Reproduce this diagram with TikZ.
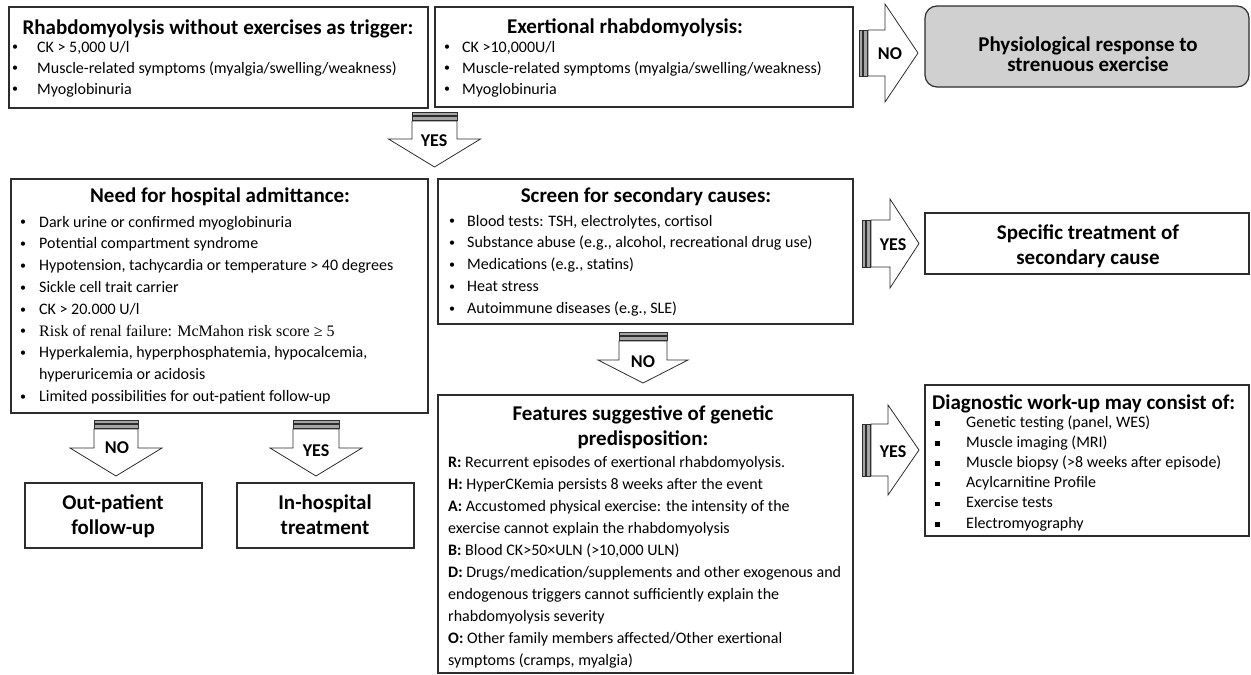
\documentclass[tikz,border=0pt]{standalone}
\usepackage{fontspec}
\setmainfont{Carlito}
\newfontfamily\timesfont{Liberation Serif}
\definecolor{boxgray}{RGB}{208,208,208}
\definecolor{linecol}{RGB}{45,45,45}
\newcommand{\bl}[1]{\makebox[#1][l]{\hspace*{1pt}{\fontsize{12}{12}\selectfont\raisebox{1.2pt}{\textbullet}}}}
\newcommand{\sq}{\makebox[31pt][l]{\rule[1.5pt]{4.5pt}{4.5pt}}}
% down block arrow: #1 name, #2 cx, #3 y0, #4 w, #5 W, #6 y1, #7 y2
\newcommand{\DArrow}[7]{%
  \draw[stripe] (#2-#4,#3) rectangle (#2+#4,#3+3);
  \draw[stripe] (#2-#4,#3+4) rectangle (#2+#4,#3+8);
  \draw[arrowbody] (#2-#4,#3+9) -- (#2-#4,#6) -- (#2-#5,#6) -- (#2,#7) -- (#2+#5,#6) -- (#2+#4,#6) -- (#2+#4,#3+9) -- cycle;
  \coordinate (#1) at (#2,#7);}
% right block arrow: #1 name, #2 x0, #3 cy, #4 h, #5 H, #6 x1, #7 x2
\newcommand{\RArrow}[7]{%
  \draw[stripe] (#2,#3-#4) rectangle (#2+3,#3+#4);
  \draw[stripe] (#2+4,#3-#4) rectangle (#2+8,#3+#4);
  \draw[arrowbody] (#2+9,#3-#4) -- (#6,#3-#4) -- (#6,#3-#5) -- (#7,#3) -- (#6,#3+#5) -- (#6,#3+#4) -- (#2+9,#3+#4) -- cycle;
  \coordinate (#1) at (#7,#3);}
\tikzset{
  box/.style={draw=linecol, line width=1.2pt, inner sep=0pt, outer sep=0pt, anchor=north west},
  ttl/.style={font=\fontsize{21}{21}\selectfont\bfseries, inner sep=0pt, anchor=base},
  txt/.style={font=\fontsize{16}{16}\selectfont, inner sep=0pt, anchor=base west},
  lbl/.style={font=\fontsize{18}{18}\selectfont\bfseries, inner sep=0pt, anchor=base},
  arrowbody/.style={draw=linecol, line width=0.8pt, fill=white, line join=miter},
  stripe/.style={draw=linecol, line width=0.6pt, fill=gray!70}
}
\begin{document}
\begin{tikzpicture}[x=1pt,y=-1pt]
\useasboundingbox (0,0) rectangle (1251,675);

% ---------- boxes ----------
\node[box, minimum width=419pt, minimum height=101pt] (b1) at (9,7) {};
\node[box, minimum width=418pt, minimum height=100pt] (b2) at (435,7) {};
\node[box, minimum width=324pt, minimum height=81pt, fill=boxgray, rounded corners=12pt] (phys) at (925,6) {};
\node[box, minimum width=417pt, minimum height=234pt] (b3) at (11,179) {};
\node[box, minimum width=415pt, minimum height=145pt] (b4) at (438,179) {};
\node[box, minimum width=324pt, minimum height=61pt] (spec) at (925,213) {};
\node[box, minimum width=415pt, minimum height=278pt] (b5) at (438,395) {};
\node[box, minimum width=324pt, minimum height=151pt] (diag) at (925,385) {};
\node[box, minimum width=177pt, minimum height=65pt] (outp) at (25,483) {};
\node[box, minimum width=177pt, minimum height=65pt] (inh) at (237,483) {};

% ---------- block arrows ----------
\DArrow{a1}{434.5}{112}{22.5}{46}{139}{167}
\DArrow{a2}{116}{420}{22}{46}{448}{476}
\DArrow{a3}{316}{420}{23}{46}{448}{476}
\DArrow{a4}{643}{332}{24}{45}{360}{383}
\RArrow{a5}{859}{53}{23}{49}{885}{918}
\RArrow{a6}{862}{243.5}{23.5}{44.5}{890}{919}
\RArrow{a7}{862}{450}{26}{45}{888}{919}
\node[lbl] (l1) at (434,146) {YES};
\node[lbl] (l2) at (117,453) {NO};
\node[lbl] (l3) at (316,456) {YES};
\node[lbl] (l4) at (643,367) {NO};
\node[lbl] (l5) at (890,59) {NO};
\node[lbl] (l6) at (893,250) {YES};
\node[lbl] (l7) at (893,457) {YES};

% ---------- box 1 ----------
\node[ttl] (b1t) at (218,34) {Rhabdomyolysis without exercises as trigger:};
\node[txt] (b1a) at (11,52) {\bl{26pt}CK > 5,000 U/l};
\node[txt] (b1b) at (11,73) {\bl{26pt}Muscle-related symptoms (myalgia/swelling/weakness)};
\node[txt] (b1c) at (11,94) {\bl{26pt}Myoglobinuria};

% ---------- box 2 ----------
\node[ttl] (b2t) at (625,33) {Exertional rhabdomyolysis:};
\node[txt] (b2a) at (443,52) {\bl{19pt}CK >10,000U/l};
\node[txt] (b2b) at (443,73) {\bl{19pt}Muscle-related symptoms (myalgia/swelling/weakness)};
\node[txt] (b2c) at (443,94) {\bl{19pt}Myoglobinuria};

% ---------- physiological ----------
\node[ttl] (pht1) at (1088,51) {Physiological response to};
\node[ttl] (pht2) at (1088,71) {strenuous exercise};

% ---------- box 3 ----------
\node[ttl] (b3t) at (220,202) {Need for hospital admittance:};
\node[txt] (b3a) at (19,227) {\bl{20pt}Dark urine or confirmed myoglobinuria};
\node[txt] (b3b) at (19,248.8) {\bl{20pt}Potential compartment syndrome};
\node[txt] (b3c) at (19,270.6) {\bl{20pt}Hypotension, tachycardia or temperature > 40 degrees};
\node[txt] (b3d) at (19,292.4) {\bl{20pt}Sickle cell trait carrier};
\node[txt] (b3e) at (19,314.2) {\bl{20pt}CK > 20.000 U/l};
\node[txt] (b3f) at (19,336) {\bl{20pt}{\timesfont Risk of renal failure: McMahon risk score ≥ 5}};
\node[txt] (b3g) at (19,357.8) {\bl{20pt}Hyperkalemia, hyperphosphatemia, hypocalcemia,};
\node[txt] (b3h) at (39,379.6) {hyperuricemia or acidosis};
\node[txt] (b3i) at (19,401.4) {\bl{20pt}Limited possibilities for out-patient follow-up};

% ---------- box 4 ----------
\node[ttl] (b4t) at (646,202) {Screen for secondary causes:};
\node[txt] (b4a) at (448,226) {\bl{19pt}Blood tests: TSH, electrolytes, cortisol};
\node[txt] (b4b) at (448,247.8) {\bl{19pt}Substance abuse (e.g., alcohol, recreational drug use)};
\node[txt] (b4c) at (448,269.6) {\bl{19pt}Medications (e.g., statins)};
\node[txt] (b4d) at (448,291.4) {\bl{19pt}Heat stress};
\node[txt] (b4e) at (448,313.2) {\bl{19pt}Autoimmune diseases (e.g., SLE)};

% ---------- specific treatment ----------
\node[ttl] (spt1) at (1088,239) {Specific treatment of};
\node[ttl] (spt2) at (1088,264) {secondary cause};

% ---------- box 5 ----------
\node[ttl] (b5t1) at (643,420) {Features suggestive of genetic};
\node[ttl] (b5t2) at (643,445) {predisposition:};
\node[txt] (b5a) at (448,467) {\textbf{R:} Recurrent episodes of exertional rhabdomyolysis.};
\node[txt] (b5b) at (448,489) {\textbf{H:} HyperCKemia persists 8 weeks after the event};
\node[txt] (b5c) at (448,511) {\textbf{A:} Accustomed physical exercise: the intensity of the};
\node[txt] (b5d) at (448,533) {exercise cannot explain the rhabdomyolysis};
\node[txt] (b5e) at (448,555) {\textbf{B:} Blood CK>50×ULN (>10,000 ULN)};
\node[txt] (b5f) at (448,577) {\textbf{D:} Drugs/medication/supplements and other exogenous and};
\node[txt] (b5g) at (448,599) {endogenous triggers cannot sufficiently explain the};
\node[txt] (b5h) at (448,621) {rhabdomyolysis severity};
\node[txt] (b5i) at (448,643) {\textbf{O:} Other family members affected/Other exertional};
\node[txt] (b5j) at (448,665) {symptoms (cramps, myalgia)};

% ---------- diagnostic ----------
\node[ttl, anchor=base west] (dgt) at (932,409) {Diagnostic work-up may consist of:};
\node[txt] (dga) at (935,427) {\sq Genetic testing (panel, WES)};
\node[txt] (dgb) at (935,447.2) {\sq Muscle imaging (MRI)};
\node[txt] (dgc) at (935,467.4) {\sq Muscle biopsy (>8 weeks after episode)};
\node[txt] (dgd) at (935,487.6) {\sq Acylcarnitine Profile};
\node[txt] (dge) at (935,507.8) {\sq Exercise tests};
\node[txt] (dgf) at (935,528) {\sq Electromyography};

% ---------- out / in ----------
\node[ttl] (ot1) at (113,509) {Out-patient};
\node[ttl] (ot2) at (113,534) {follow-up};
\node[ttl] (it1) at (325,509) {In-hospital};
\node[ttl] (it2) at (325,534) {treatment};
\end{tikzpicture}
\end{document}
